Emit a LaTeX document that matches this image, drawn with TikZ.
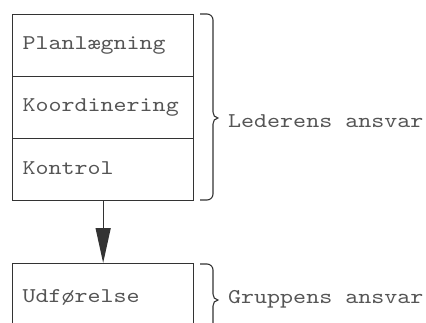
\documentclass[tikz,border=0pt]{standalone}
\usepackage{fontspec}
\setmonofont{lmmono10-regular.otf}[FakeStretch=1.18]
\usetikzlibrary{arrows.meta}
\definecolor{ink}{HTML}{333333}
\definecolor{txt}{HTML}{555555}
\newcommand{\typefont}{\fontsize{21}{23}\selectfont\ttfamily}
\tikzset{
  boxpart/.style={draw=ink, line width=1.3pt, minimum width=181pt, minimum height=62pt,
    text width=161pt, inner xsep=10pt, inner ysep=0pt, align=left, anchor=north west,
    font=\typefont, text=txt},
  lbl/.style={anchor=west, inner sep=0pt, font=\typefont, text=txt},
  bracepath/.style={draw=ink, line width=1.1pt},
}
\begin{document}
\begin{tikzpicture}[x=1pt,y=-1pt]
\useasboundingbox (0,0) rectangle (426,322);
\clip (0,0) rectangle (426,322);
\node[boxpart] (plan) at (12,14) {Planlægning};
\node[boxpart] (koord) at (12,76) {Koordinering};
\node[boxpart] (kontrol) at (12,138) {\raisebox{3pt}{Kontrol}};
\node[boxpart, minimum height=68pt] (udf) at (12,263) {Udførelse};
\draw[ink, line width=1.3pt, -{Triangle[length=35pt,width=15pt]}] (kontrol.south) -- (udf.north);
% braces
\coordinate (b1t) at (200,14);
\coordinate (b1b) at (200,200);
\draw[bracepath] (b1t) -- (207,14) to[out=0,in=90] (213,20) -- (213,112) to[out=-90,in=180] (218,118)
   to[out=180,in=90] (213,124) -- (213,194) to[out=-90,in=0] (207,200) -- (b1b);
\node[lbl] (led) at (228,121) {Lederens ansvar};
\coordinate (b2t) at (200,264);
\draw[bracepath] (b2t) -- (207,264) to[out=0,in=90] (213,270) -- (213,294) to[out=-90,in=180] (218,300)
   to[out=180,in=90] (213,306) -- (213,330);
\node[lbl] (grp) at (228,299) {Gruppens ansvar};
\end{tikzpicture}
\end{document}
